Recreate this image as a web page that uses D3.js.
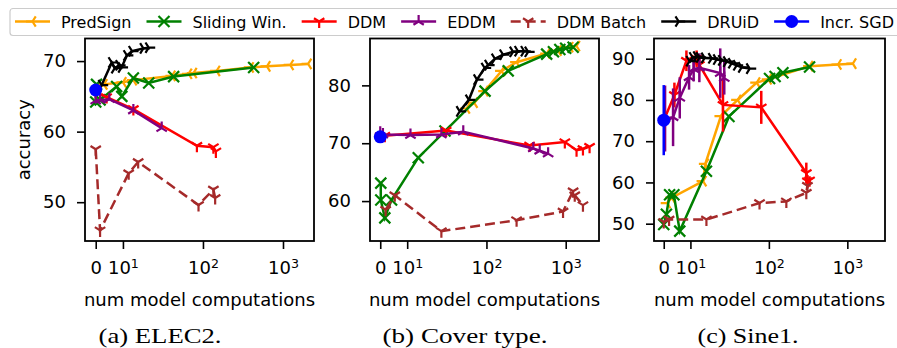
<!DOCTYPE html>
<html>
<head>
<meta charset="utf-8">
<script src="https://cdn.jsdelivr.net/npm/d3@7"></script>
<style>
  body { margin: 0; background: #fff; }
  svg { display: block; font-family: "DejaVu Sans", sans-serif; }
</style>
</head>
<body>
<div id="chart"></div>
<script>
const seriesNames = ["PredSign", "Sliding Win.", "DDM", "EDDM", "DDM Batch", "DRUiD", "Incr. SGD"];
const seriesColors = ["orange", "green", "red", "purple", "brown", "black", "blue"];
const seriesMarkers = ["tri_left", "x", "tri_down", "tri_up", "tri_down", "tri_right", "o"];
const captions = ["(a) ELEC2.", "(b) Cover type.", "(c) Sine1."];
const xTickValues = [0, 10, 100, 1000];

// ELEC2  [num model computations, accuracy]
const aPredSign = [[0.5, 65.9], [3, 66.7], [10, 67.0], [13.5, 67.3], [41, 67.9], [66, 68.2], [76, 68.3], [148, 68.6], [390, 69.1], [630, 69.25], [1230, 69.45], [2060, 69.6]];
const aSliding = [[0.3, 66.7], [0, 64.2], [1.6, 64.5], [7.7, 66.4], [9.6, 65.0], [13.5, 67.6], [21, 66.9], [43, 67.8], [430, 69.1]];
const aDDM = [[0, 65.6], [4, 64.9], [13.5, 63.2], [84, 58.0], [135, 57.8], [145, 57.2]];
const aEDDM = [[0, 64.4], [1.6, 64.5], [5, 64.6], [13.5, 63.0], [30.5, 60.5]];
const aBatch = [[0, 57.5], [1.6, 46.0], [11.8, 54.1], [15.5, 55.7], [88, 49.6], [135, 51.8], [142, 50.6]];
const aDRUiD = [[2.2, 66.6], [5.9, 69.8], [7, 69.0], [8.6, 69.4], [9.5, 69.1], [11.2, 70.8], [13, 71.4], [18, 71.8], [21, 71.9]];
const aSGD = [[0, 65.9]];

// Cover type
const bPredSign = [[56, 76.0], [70, 77.0], [95, 79.0], [155, 82.5], [240, 84.0], [575, 85.5], [800, 86.0], [1125, 86.6], [1370, 86.8]];
const bSliding = [[0.2, 63.1], [0.2, 60.2], [1.7, 57.1], [4.2, 60.2], [13.8, 67.5], [30, 72.1], [96, 79.0], [188, 82.5], [575, 85.4], [700, 85.8], [843, 86.2], [1000, 86.4], [1240, 86.6]];
const bDDM = [[0, 71.2], [1.7, 71.3], [31, 72.2], [350, 69.6], [975, 70.2], [1370, 68.8], [1650, 69.0], [2000, 69.4]];
const bEDDM = [[0, 71.8], [1, 71.5], [11, 71.4], [27, 71.5], [51, 72.0], [390, 69.1], [470, 68.7], [600, 68.2]];
const bBatch = [[2, 58.5], [5.4, 61.0], [27, 54.8], [240, 56.7], [925, 58.2], [1240, 61.7], [1300, 61.0], [1650, 59.3]];
const bDRUiD = [[46, 75.5], [60, 77.5], [76, 81], [95, 83], [105, 83.5], [128, 84.6], [162, 85.3], [217, 85.8], [250, 85.9], [300, 85.9], [336, 85.8]];
const bSGD = [[0, 71.1]];

// Sine1  [x, accuracy, error]
const cPredSign = [[1.3, 55.0], [3, 56.3], [14.5, 60.3], [15.5, 64.5], [24.5, 76.1], [40, 80.0], [70, 84.2], [98, 85.0], [330, 88.2], [760, 88.6], [1175, 88.8]];
const cSliding = [[0, 49.8], [1, 52.3], [2.2, 57.0], [3.8, 57.0], [6, 48.2], [16, 62.7], [31, 76.0], [102, 85.2], [120, 85.7], [151, 86.6], [330, 88.0]];
const cDDM = [[0, 75, 0], [4, 81.2, 3], [8.5, 89.5, 2.5], [12, 90.0, 2], [13, 88.5, 1.5], [26, 78.8, 6.5], [80, 78.2, 4], [300, 62.3, 2.5], [310, 60.3, 1.5], [330, 60.5, 1]];
const cEDDM = [[0.5, 75.5, 8], [3.5, 75.8, 7], [6, 80.5, 5], [9.5, 85.5, 3], [11, 87.5, 3], [13, 87.8, 3.5], [24, 86.5, 6], [27, 85.3, 4]];
const cBatch = [[0, 50.4], [2, 51.0], [16, 51.0], [76, 55.0], [167, 55.4], [300, 57.5], [310, 59.2]];
const cDRUiD = [[9.7, 89.4], [10.7, 90.3], [12, 90.5], [13.1, 90.3], [15.2, 90.2], [18.7, 90.1], [21.6, 89.8], [25, 89.6], [29, 89.3], [33.6, 88.9], [38.9, 88.4], [45, 87.9], [57, 87.6]];
const cSGD = [[0, 75.1, 8.5]];

const panelData = [
    [aPredSign, aSliding, aDDM, aEDDM, aBatch, aDRUiD, aSGD],
    [bPredSign, bSliding, bDDM, bEDDM, bBatch, bDRUiD, bSGD],
    [cPredSign, cSliding, cDDM, cEDDM, cBatch, cDRUiD, cSGD],
];
const yDomains = [[44.5, 73.2], [53.1, 88.1], [45.8, 94.9]];
const yTicks = [[50, 60, 70], [60, 70, 80], [50, 60, 70, 80, 90]];
const xDomains = [[-3.94, 2440], [-3.8, 2630], [-3.65, 3020]];

const width = 897;
const height = 348;
const frames = [[85, 314], [370, 599], [654, 885]];
const plotTop = 38.5;
const plotBottom = 241;
const captionX = [160, 465, 748];
const captionW = [123, 165, 101];

// symlog like matplotlib: linear below 10, one decade per unit above
const linPart = 0.34;
function tf(v) {
    if (Math.abs(v) <= 10) return linPart * v / 10;
    return Math.sign(v) * (linPart + Math.log10(Math.abs(v) / 10));
}
function symScale(domain, range) {
    const lin = d3.scaleLinear().domain(domain.map(tf)).range(range);
    const s = v => lin(tf(v));
    s.copy = () => symScale(domain, range);
    s.range = () => lin.range();
    s.domain = () => domain;
    return s;
}

function markerPath(type) {
    const r = 6.5;
    const a = 0.8 * r, b = 0.5 * r;
    switch (type) {
        case "tri_down": return `M0,0L0,${r}M0,0L${a},${-b}M0,0L${-a},${-b}`;
        case "tri_up": return `M0,0L0,${-r}M0,0L${a},${b}M0,0L${-a},${b}`;
        case "tri_left": return `M0,0L${-r},0M0,0L${b},${a}M0,0L${b},${-a}`;
        case "tri_right": return `M0,0L${r},0M0,0L${-b},${a}M0,0L${-b},${-a}`;
        case "x": return "M-5.5,-5.5L5.5,5.5M-5.5,5.5L5.5,-5.5";
    }
    return null;
}

function drawMarker(g, type, color) {
    if (type === "o") {
        g.append("circle").attr("r", 6.5).attr("fill", color);
    } else {
        g.append("path").attr("d", markerPath(type))
            .attr("fill", "none").attr("stroke", color)
            .attr("stroke-width", 2.2).attr("stroke-linecap", "butt");
    }
}

const svg = d3.select("#chart").append("svg")
    .attr("width", width)
    .attr("height", height);

panelData.forEach((sets, p) => {
    const x = symScale(xDomains[p], frames[p]);
    const y = d3.scaleLinear().domain(yDomains[p]).range([plotBottom, plotTop]);
    const g = svg.append("g");

    // series
    sets.forEach((pts, i) => {
        const color = seriesColors[i];
        const sg = g.append("g");
        sg.selectAll("line.err")
            .data(pts.filter(d => d[2]))
            .enter().append("line")
            .attr("x1", d => x(d[0])).attr("x2", d => x(d[0]))
            .attr("y1", d => y(d[1] - d[2])).attr("y2", d => y(d[1] + d[2]))
            .attr("stroke", color).attr("stroke-width", 2.5);
        if (pts.length > 1) {
            sg.append("path")
                .datum(pts)
                .attr("d", d3.line().x(d => x(d[0])).y(d => y(d[1])))
                .attr("fill", "none")
                .attr("stroke", color)
                .attr("stroke-width", 2.5)
                .attr("stroke-dasharray", seriesNames[i] === "DDM Batch" ? "10,5" : null);
        }
        sg.selectAll("g.mk")
            .data(pts)
            .enter().append("g")
            .attr("transform", d => `translate(${x(d[0])},${y(d[1])})`)
            .each(function () { drawMarker(d3.select(this), seriesMarkers[i], color); });
    });

    // frame
    g.append("rect")
        .attr("x", frames[p][0]).attr("y", plotTop)
        .attr("width", frames[p][1] - frames[p][0]).attr("height", plotBottom - plotTop)
        .attr("fill", "none").attr("stroke", "#000").attr("stroke-width", 1.8);

    // axes
    const xAxis = g.append("g")
        .attr("transform", `translate(0,${plotBottom})`)
        .call(d3.axisBottom(x).tickValues(xTickValues).tickSize(8).tickPadding(12));
    xAxis.select(".domain").remove();
    xAxis.selectAll(".tick line").attr("stroke-width", 1.6);
    xAxis.selectAll(".tick text")
        .attr("font-size", 18).attr("fill", "#000")
        .attr("font-family", "DejaVu Sans")
        .text(null)
        .each(function (d) {
            const t = d3.select(this);
            if (d === 0) {
                t.append("tspan").text("0");
            } else {
                t.append("tspan").text("10");
                t.append("tspan").attr("dy", "-0.45em").attr("font-size", 12.6)
                    .text(String(Math.round(Math.log10(d))));
            }
        });

    const yAxis = g.append("g")
        .attr("transform", `translate(${frames[p][0]},0)`)
        .call(d3.axisLeft(y).tickValues(yTicks[p]).tickSize(8).tickPadding(11));
    yAxis.select(".domain").remove();
    yAxis.selectAll(".tick line").attr("stroke-width", 1.6);
    yAxis.selectAll(".tick text").attr("font-size", 18).attr("fill", "#000")
        .attr("font-family", "DejaVu Sans");

    // labels
    g.append("text")
        .attr("x", (frames[p][0] + frames[p][1]) / 2).attr("y", 306)
        .attr("text-anchor", "middle").attr("font-size", 18)
        .text("num model computations");
    g.append("text")
        .attr("x", captionX[p] - captionW[p] / 2).attr("y", 343)
        .attr("font-family", "'Liberation Serif', serif")
        .attr("font-size", 22)
        .attr("textLength", captionW[p])
        .attr("lengthAdjust", "spacingAndGlyphs")
        .text(captions[p]);
});

svg.append("text")
    .attr("transform", `translate(30,${(plotTop + plotBottom) / 2}) rotate(-90)`)
    .attr("text-anchor", "middle").attr("font-size", 18)
    .text("accuracy");

// legend
const legend = svg.append("g");
legend.append("rect")
    .attr("x", 10).attr("y", 8.5).attr("width", 900).attr("height", 27)
    .attr("rx", 3).attr("fill", "#fff").attr("fill-opacity", 0.8)
    .attr("stroke", "#cccccc").attr("stroke-width", 1.2);
let lx = 15;
const ly = 21.5;
seriesNames.forEach((name, i) => {
    const color = seriesColors[i];
    legend.append("line")
        .attr("x1", lx).attr("x2", lx + 35).attr("y1", ly).attr("y2", ly)
        .attr("stroke", color).attr("stroke-width", 2.5)
        .attr("stroke-dasharray", name === "DDM Batch" ? "10,5" : null);
    const mg = legend.append("g").attr("transform", `translate(${lx + 17.5},${ly})`);
    drawMarker(mg, seriesMarkers[i], color);
    const t = legend.append("text")
        .attr("x", lx + 46).attr("y", ly + 6)
        .attr("font-size", 16).text(name);
    lx = lx + 46 + t.node().getComputedTextLength() + 15;
});
</script>
</body>
</html>
